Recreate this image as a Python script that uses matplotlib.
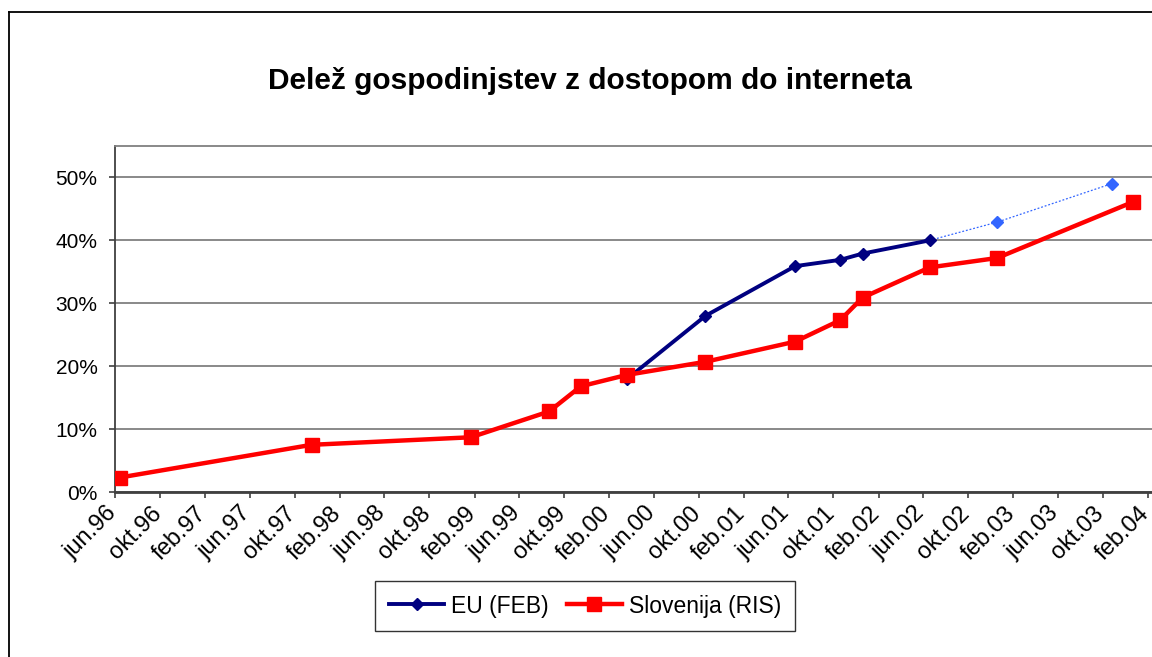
import pandas as pd
import matplotlib.pyplot as plt
import matplotlib.dates as mdates
from matplotlib.lines import Line2D
from matplotlib.ticker import FuncFormatter, MultipleLocator
from matplotlib.transforms import ScaledTranslation

plt.rcParams['font.family'] = ['Liberation Sans', 'DejaVu Sans']

# podatki (odčitani z grafa)
slo_dates = pd.to_datetime(['1996-06-14', '1997-11-16', '1999-01-22', '1999-08-22',
                            '1999-11-16', '2000-03-19', '2000-10-19', '2001-06-19',
                            '2001-10-19', '2001-12-19', '2002-06-19', '2002-12-19',
                            '2003-12-22'])
slo_values = [0.023, 0.075, 0.087, 0.128, 0.168, 0.186, 0.207, 0.239,
              0.273, 0.309, 0.357, 0.372, 0.461]

eu_dates = pd.to_datetime(['2000-03-19', '2000-10-19', '2001-06-19', '2001-10-19',
                           '2001-12-19', '2002-06-19'])
eu_values = [0.179, 0.280, 0.359, 0.369, 0.379, 0.400]

# napoved EU (pikčasta črta)
eu_est_dates = pd.to_datetime(['2002-06-19', '2002-12-19', '2003-10-25'])
eu_est_values = [0.400, 0.429, 0.490]

tick_dates = pd.date_range('1996-06-01', '2004-02-01', freq='4MS')
tick_labels = ['jun.96', 'okt.96', 'feb.97', 'jun.97', 'okt.97', 'feb.98', 'jun.98',
               'okt.98', 'feb.99', 'jun.99', 'okt.99', 'feb.00', 'jun.00', 'okt.00',
               'feb.01', 'jun.01', 'okt.01', 'feb.02', 'jun.02', 'okt.02', 'feb.03',
               'jun.03', 'okt.03', 'feb.04']

W, H = 1152, 657
fig = plt.figure(figsize=(W / 100, H / 100), dpi=100)


def px(x, y):
    return x / W, 1 - y / H


# okvir grafa (desni in spodnji rob sta odrezana)
fig.add_artist(Line2D([9 / W, 9 / W], [0, 1 - 12 / H], color='black', lw=1.3,
                      transform=fig.transFigure))
fig.add_artist(Line2D([9 / W, 1], [1 - 12 / H, 1 - 12 / H], color='black', lw=1.3,
                      transform=fig.transFigure))

left, bottom = px(115, 492)
ax = fig.add_axes([left, bottom, (1165 - 115) / W, (492 - 146) / H])

ax.plot(eu_est_dates, eu_est_values, color='#3366FF', lw=0.9, ls=(0, (1.5, 1.5)),
        marker='D', markersize=6.5, markevery=[1, 2], zorder=2)
ax.plot(eu_dates, eu_values, color='#000080', lw=2.8, marker='D', markersize=6.5,
        label='EU (FEB)', zorder=3)
ax.plot(slo_dates, slo_values, color='#FF0000', lw=3.2, marker='s', markersize=10.5,
        label='Slovenija (RIS)', zorder=4)

ax.set_xlim(pd.Timestamp('1996-06-01'), pd.Timestamp('2004-03-18'))
ax.set_ylim(0, 0.55)
ax.yaxis.set_major_locator(MultipleLocator(0.1))
ax.yaxis.set_major_formatter(FuncFormatter(lambda v, p: f'{v * 100:.0f}%'))
ax.set_xticks(mdates.date2num(tick_dates))
ax.set_xticklabels([])

# nagnjene oznake datumov
lab_trans = ax.get_xaxis_transform() + ScaledTranslation(-2 / 100, -18 / 100,
                                                         fig.dpi_scale_trans)
for d, lab in zip(tick_dates, tick_labels):
    ax.text(mdates.date2num(d), 0, lab, transform=lab_trans, rotation=45,
            ha='right', va='center', rotation_mode='anchor', fontsize=17,
            clip_on=False)

ax.grid(axis='y', color='#808080', lw=1.3)
ax.set_axisbelow(True)
ax.tick_params(axis='both', colors='#404040', labelcolor='black',
               length=4, width=1.2, direction='out')
ax.tick_params(axis='y', pad=8.5, labelsize=15)
ax.spines['right'].set_visible(False)
ax.spines['top'].set_color('#808080')
ax.spines['top'].set_linewidth(1.3)
ax.spines['left'].set_color('#404040')
ax.spines['left'].set_linewidth(1.3)
ax.spines['bottom'].set_color('#404040')
ax.spines['bottom'].set_linewidth(2)

fig.text(*px(590, 81), 'Delež gospodinjstev z dostopom do interneta',
         ha='center', va='center', fontsize=21.5, fontweight='bold')

leg = fig.legend(loc='center', bbox_to_anchor=px(585, 606), fontsize=16.5,
                 frameon=True, fancybox=False, edgecolor='black', ncol=2,
                 handlelength=2.4, columnspacing=0.8, handletextpad=0.3,
                 borderpad=0.6)
leg.get_frame().set_linewidth(1.0)

fig.savefig('out.png', dpi=100)
